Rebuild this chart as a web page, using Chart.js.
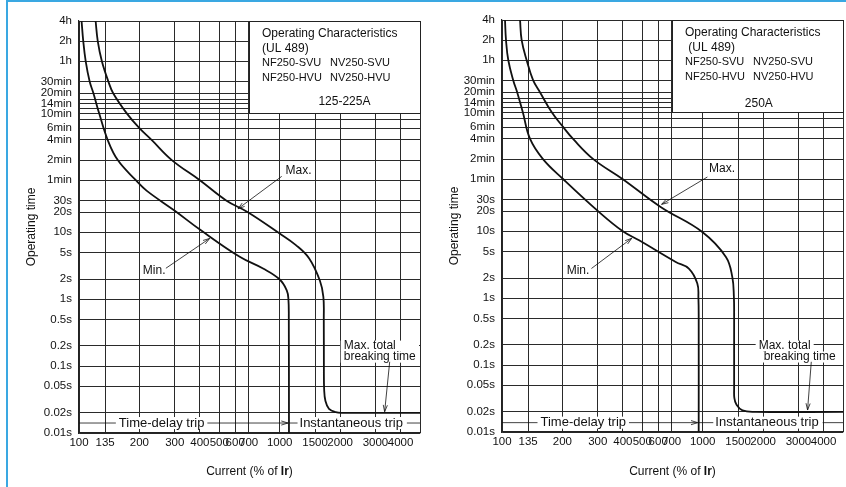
<!DOCTYPE html>
<html>
<head>
<meta charset="utf-8">
<script src="https://cdn.jsdelivr.net/npm/chart.js@4/dist/chart.umd.min.js"></script>
<style>
  html, body { margin: 0; padding: 0; background: #fff; }
  #wrap { position: relative; width: 846px; height: 487px; overflow: hidden; }
  #frame { position: absolute; left: 6px; top: 0; width: 846px; height: 487px; box-sizing: border-box;
           border-top: 2px solid #3aa8e2; border-left: 2px solid #3aa8e2; pointer-events: none; }
  canvas { position: absolute; top: 0; }
</style>
</head>
<body>
<div id="wrap">
  <canvas id="chartA" width="423" height="487" style="left:0"></canvas>
  <canvas id="chartB" width="423" height="487" style="left:423px"></canvas>
  <div id="frame"></div>
</div>
<script>
const FONT = '"Liberation Sans", Arial, Helvetica, sans-serif';

// x axis: current in % of Ir
const xTickValues = [100, 135, 200, 300, 400, 500, 600, 700, 1000, 1500, 2000, 3000, 4000, 5000];
const xTickLabels = ['100', '135', '200', '300', '400', '500', '600', '700', '1000', '1500', '2000', '3000', '4000', ''];

// y axis: operating time in seconds
const yTickValues = [0.01, 0.02, 0.05, 0.1, 0.2, 0.5, 1, 2, 5, 10, 20, 30, 60, 120, 240, 360, 480, 600, 720, 840, 960, 1200, 1800, 3600, 7200, 14400];
const yTickLabels = ['0.01s', '0.02s', '0.05s', '0.1s', '0.2s', '0.5s', '1s', '2s', '5s', '10s', '20s', '30s', '1min', '2min', '4min', '6min', '', '10min', '', '14min', '', '20min', '30min', '1h', '2h', '4h'];

// 125-225A panel
const minCurrentA = [103, 105, 108, 113, 118, 126, 139, 156, 192, 217, 300, 405, 632, 826, 1000, 1084, 1105, 1110, 1112];
const minTimeA    = [14400, 7200, 3600, 1800, 1200, 600, 240, 120, 60, 42, 21, 10.7, 4.3, 2.87, 1.97, 1.36, 1.0, 0.5, 0.01];
const maxCurrentA = [121, 124, 130, 140, 148, 173, 200, 230, 290, 400, 541, 694, 1000, 1200, 1400, 1585, 1650, 1658, 1660, 1665, 1690, 1760, 1900, 2050, 5000];
const maxTimeA    = [14400, 7200, 3600, 1800, 1200, 600, 360, 240, 120, 60, 30, 20, 9.6, 6.5, 4.1, 1.9, 1.08, 0.5, 0.1, 0.045, 0.03, 0.023, 0.0205, 0.02, 0.02];

// 250A panel
const minCurrentB = [103.5, 104.7, 107.5, 113.8, 119, 127, 138, 160, 202, 301, 400, 482, 734, 853, 940, 952, 955, 955];
const minTimeB    = [14400, 7200, 3600, 1800, 1200, 600, 240, 120, 60, 20, 10, 7.34, 3.48, 2.77, 1.66, 1.0, 0.5, 0.01];
const maxCurrentB = [123, 125.3, 132.7, 143, 154.6, 177, 202, 226, 285, 400, 617, 995, 1305, 1404, 1430, 1434, 1434, 1438, 1470, 1578, 1837, 5000];
const maxTimeB    = [14400, 7200, 3600, 1800, 1200, 600, 360, 240, 120, 60, 23.1, 9.77, 4.14, 2.08, 1.05, 0.5, 0.045, 0.032, 0.026, 0.021, 0.02, 0.02];

function points(xs, ys) {
  return xs.map((v, i) => ({ x: v, y: ys[i] }));
}

function arrow(ctx, x1, y1, x2, y2) {
  const a = Math.atan2(y2 - y1, x2 - x1);
  const s = 7, w = 0.3;
  ctx.beginPath();
  ctx.moveTo(x1, y1);
  ctx.lineTo(x2, y2);
  ctx.moveTo(x2 - s * Math.cos(a - w), y2 - s * Math.sin(a - w));
  ctx.lineTo(x2, y2);
  ctx.lineTo(x2 - s * Math.cos(a + w), y2 - s * Math.sin(a + w));
  ctx.stroke();
}

// white patch behind a label so the grid does not run through it
function clearText(ctx, x, y, w, h) {
  ctx.save();
  ctx.fillStyle = '#fff';
  ctx.fillRect(x, y - h / 2, w, h);
  ctx.restore();
}

const notesPlugin = {
  id: 'notes',
  beforeDatasetsDraw(chart, args, o) {
    const ctx = chart.ctx, sx = chart.scales.x, sy = chart.scales.y, area = chart.chartArea;
    const X = v => sx.getPixelForValue(v), Y = v => sy.getPixelForValue(v);
    const l = Math.round(X(o.box[0])), r = Math.round(X(o.box[2]));
    const t = Math.round(Y(o.box[3])), b = Math.round(Y(o.box[1]));
    ctx.save();
    ctx.fillStyle = '#fff';
    ctx.fillRect(l + 1, t + 1, r - l - 1, b - t - 1);
    ctx.strokeStyle = '#222';
    ctx.lineWidth = 1;
    ctx.strokeRect(l + 0.5, t + 0.5, r - l, b - t);
    ctx.fillStyle = '#111';
    ctx.textBaseline = 'middle';
    ctx.textAlign = 'left';
    ctx.font = '12px ' + FONT;
    ctx.fillText('Operating Characteristics', l + 13, t + 13);
    ctx.fillText(o.ul, l + 13, t + 28);
    ctx.font = '11px ' + FONT;
    ctx.fillText('NF250-SVU', l + 13, t + 42);
    ctx.fillText('NV250-SVU', l + 81, t + 42);
    ctx.fillText('NF250-HVU', l + 13, t + 57);
    ctx.fillText('NV250-HVU', l + 81, t + 57);
    ctx.font = '12px ' + FONT;
    ctx.textAlign = 'center';
    ctx.fillText(o.rating, X(o.ratingAt[0]), Y(o.ratingAt[1]));

    // knock the grid out behind the trip labels and the breaking-time note
    ctx.font = '13px ' + FONT;
    const ty = Y(o.tripTime);
    const dw = ctx.measureText('Time-delay trip').width, iw = ctx.measureText('Instantaneous trip').width;
    clearText(ctx, X(o.delayCenter) - dw / 2 - 2, ty, dw + 4, 12);
    clearText(ctx, X(o.instCenter) - iw / 2 - 2, ty, iw + 4, 12);
    ctx.font = '12px ' + FONT;
    const bx = X(o.breakLabel[0]);
    const mw = ctx.measureText('Max. total').width, bw = ctx.measureText('breaking time').width;
    const firstEnd = o.breakClearToEdge ? area.right - 1 : bx + mw + 3;
    clearText(ctx, bx - 3, Y(o.breakLabel[1]), firstEnd - bx + 3, 11);
    clearText(ctx, bx + o.breakIndent - 3, Y(o.breakLabel[2]), bw + 6, 11);
    ctx.restore();
  },
  afterDatasetsDraw(chart, args, o) {
    const ctx = chart.ctx, sx = chart.scales.x, sy = chart.scales.y, area = chart.chartArea;
    const X = v => sx.getPixelForValue(v), Y = v => sy.getPixelForValue(v);
    ctx.save();
    ctx.fillStyle = '#111';
    ctx.strokeStyle = '#111';
    ctx.lineWidth = 0.8;
    ctx.textBaseline = 'middle';
    ctx.textAlign = 'left';
    ctx.font = '12px ' + FONT;

    ctx.fillText('Max.', X(o.maxLabel[0]), Y(o.maxLabel[1]));
    arrow(ctx, X(o.maxArrow[0]), Y(o.maxArrow[1]), X(o.maxArrow[2]), Y(o.maxArrow[3]));
    ctx.fillText('Min.', X(o.minLabel[0]), Y(o.minLabel[1]));
    arrow(ctx, X(o.minArrow[0]), Y(o.minArrow[1]), X(o.minArrow[2]), Y(o.minArrow[3]));

    // trip regions
    ctx.font = '13px ' + FONT;
    ctx.textAlign = 'center';
    const ty = Y(o.tripTime), edge = X(o.tripEdge);
    const dc = X(o.delayCenter), dw = ctx.measureText('Time-delay trip').width / 2;
    ctx.fillText('Time-delay trip', dc, ty);
    ctx.beginPath();
    ctx.moveTo(area.left, ty); ctx.lineTo(dc - dw - 3, ty);
    ctx.stroke();
    arrow(ctx, dc + dw + 3, ty, edge - 1, ty);
    const ic = X(o.instCenter), iw = ctx.measureText('Instantaneous trip').width / 2;
    ctx.fillText('Instantaneous trip', ic, ty);
    ctx.beginPath();
    ctx.moveTo(edge, ty); ctx.lineTo(ic - iw - 2, ty);
    ctx.moveTo(ic + iw + 4, ty); ctx.lineTo(area.right, ty);
    ctx.stroke();

    // max total breaking time
    ctx.font = '12px ' + FONT;
    ctx.textAlign = 'left';
    const bx = X(o.breakLabel[0]);
    ctx.fillText('Max. total', bx, Y(o.breakLabel[1]));
    ctx.fillText('breaking time', bx + o.breakIndent, Y(o.breakLabel[2]));
    arrow(ctx, X(o.breakArrow[0]), Y(o.breakArrow[1]), X(o.breakArrow[2]), Y(o.breakArrow[3]));

    // x axis title with bold Ir
    const parts = [['Current (% of ', '12px '], ['Ir', 'bold 12px '], [')', '12px ']];
    let total = 0;
    parts.forEach(p => { ctx.font = p[1] + FONT; total += ctx.measureText(p[0]).width; });
    let cx = (area.left + area.right) / 2 - total / 2;
    parts.forEach(p => { ctx.font = p[1] + FONT; ctx.fillText(p[0], cx, 472); cx += ctx.measureText(p[0]).width; });
    ctx.restore();
  }
};

function makeChart(id, minX, minY, maxX, maxY, top, rightPad, notes) {
  const curve = {
    showLine: true, borderColor: '#111', borderWidth: 1.8, pointRadius: 0, tension: 0.4, fill: false
  };
  return new Chart(document.getElementById(id), {
    type: 'scatter',
    data: {
      datasets: [
        Object.assign({ label: 'Min.', data: points(minX, minY) }, curve),
        Object.assign({ label: 'Max.', data: points(maxX, maxY) }, curve)
      ]
    },
    options: {
      responsive: false,
      animation: false,
      events: [],
      layout: { padding: { top: top, right: rightPad, bottom: 0, left: 0 } },
      plugins: { legend: { display: false }, tooltip: { enabled: false }, notes: notes },
      scales: {
        x: {
          type: 'logarithmic', min: 100, max: 5000,
          afterBuildTicks: s => { s.ticks = xTickValues.map(v => ({ value: v })); },
          afterFit: s => { s.height = 487 - (433 - (21 - top)); },
          ticks: {
            autoSkip: false, maxRotation: 0, padding: 3, color: '#111',
            font: { family: FONT, size: 11.5 },
            callback: (v, i) => xTickLabels[i]
          },
          grid: { color: '#2a2a2a', lineWidth: 1, drawTicks: false },
          border: { color: '#222', width: 1.2 }
        },
        y: {
          type: 'logarithmic', min: 0.01, max: 14400,
          afterBuildTicks: s => { s.ticks = yTickValues.map(v => ({ value: v })); },
          afterFit: s => { s.width = 79; },
          ticks: {
            autoSkip: false, padding: 7, color: '#111',
            font: { family: FONT, size: 11.5 },
            callback: (v, i) => yTickLabels[i]
          },
          title: { display: true, text: 'Operating time', color: '#111', font: { family: FONT, size: 12 }, padding: { top: 24 } },
          grid: { color: '#2a2a2a', lineWidth: 1, drawTicks: false },
          border: { color: '#222', width: 1.2 }
        }
      }
    },
    plugins: [notesPlugin]
  });
}

makeChart('chartA', minCurrentA, minTimeA, maxCurrentA, maxTimeA, 21, 3, {
  ul: '(UL 489)', rating: '125-225A', ratingAt: [2101, 902],
  box: [700, 600, 5000, 14400],
  maxLabel: [1070, 84], maxArrow: [1023, 68.5, 620, 22.5],
  minLabel: [208, 2.71], minArrow: [271, 2.9, 448, 8.1],
  tripTime: 0.0141, tripEdge: 1112, delayCenter: 258, instCenter: 2271,
  breakLabel: [2084, 0.199, 0.136], breakIndent: 0, breakClearToEdge: true,
  breakArrow: [3532, 0.116, 3333, 0.0208]
});

makeChart('chartB', minCurrentB, minTimeB, maxCurrentB, maxTimeB, 20, 2, {
  ul: ' (UL 489)', rating: '250A', ratingAt: [1904, 822],
  box: [700, 600, 5000, 14400],
  maxLabel: [1075, 86], maxArrow: [1055, 64.8, 624, 25.3],
  minLabel: [210, 2.62], minArrow: [279, 2.78, 443, 7.86],
  tripTime: 0.0138, tripEdge: 955, delayCenter: 254, instCenter: 2090,
  breakLabel: [1900, 0.192, 0.132], breakIndent: 5, breakClearToEdge: false,
  breakArrow: [3475, 0.112, 3330, 0.0213]
});
</script>
</body>
</html>
